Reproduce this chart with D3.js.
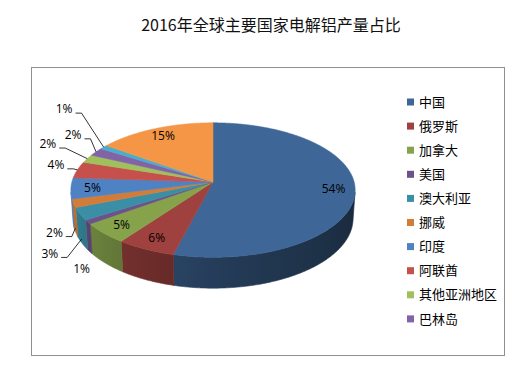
<!DOCTYPE html>
<html><head><meta charset="utf-8">
<script src="https://cdn.jsdelivr.net/npm/d3@7/dist/d3.min.js"></script>
<style>body{margin:0;background:#fff}svg{display:block}</style>
</head><body><svg id="c" width="530" height="380"></svg>
<script>
// ---- data ----
const title = "2016年全球主要国家电解铝产量占比";
const categories = ["中国","俄罗斯","加拿大","美国","澳大利亚","挪威","印度","阿联酋","其他亚洲地区","巴林岛","冰岛","其他"];
const shares = [54,6,5,1,3,2,5,4,2,2,1,15];
const legendCount = 10;
const colors = ["#3E6797","#9F413E","#86A34C","#6B5288","#3A8FA6","#D27D37","#4F82C3","#C5504C","#9FC05C","#8163A7","#4AADC9","#F59647"];

// ---- layout ----
const cx = 213, cy = 182, focal = 1040, dist = 7.37, tilt = 28*Math.PI/180, thick = 0.231;
const labelNudge = {3:[-8,22],4:[-32,14.5],5:[-21,4.5],7:[-21.5,-5],8:[-39.5,-14.6],9:[-23,-17],10:[-39.5,-38]};

const svg = d3.select("#c");
svg.append("rect").attr("width",530).attr("height",380).attr("fill","#fff");
svg.append("rect").attr("x",31.5).attr("y",67.5).attr("width",473).attr("height",288)
  .attr("fill","none").attr("stroke","#8f8f8f").attr("stroke-width",1);

svg.append("text").attr("x",271).attr("y",31).attr("text-anchor","middle")
  .attr("font-family","'Noto Sans CJK SC', sans-serif").attr("font-size",16).attr("fill","#111")
  .text(title);

function project(r, theta, h){
  const X = r*Math.sin(theta), Z = r*Math.cos(theta);
  const yv = h*Math.cos(tilt) + Z*Math.sin(tilt);
  const d = dist + Z*Math.cos(tilt) - h*Math.sin(tilt);
  return [cx + focal*X/d, cy - focal*yv/d];
}

const pie = d3.pie().sort(null).value(d=>d)(shares);
const line = d3.line();
const thR = Math.acos(-1/(dist*Math.cos(tilt)));
const thL = 2*Math.PI - thR;
const shade = th => { const t = Math.max(0,Math.min(1,(th-thR)/(thL-thR))); return 0.42 + 0.5*Math.pow(t,1.5); };
const scaleColor = (c,f) => { const r = d3.rgb(c); return d3.rgb(r.r*f, r.g*f, r.b*f).formatHex(); };

function arcPts(a,b,h,r=1){
  const n = Math.max(2, Math.ceil(Math.abs(b-a)/(0.5*Math.PI/180)));
  return d3.range(n+1).map(i=>project(r, a+(b-a)*i/n, h));
}

const defs = svg.append("defs");
const gWall = svg.append("g"), gTop = svg.append("g");

pie.forEach((p,i)=>{
  const s = Math.max(p.startAngle, thR), e = Math.min(p.endAngle, thL);
  if (e > s) {
    const pts = arcPts(s,e,0).concat(arcPts(e,s,-thick));
    const xs = project(1,s,-thick)[0], xe = project(1,e,-thick)[0];
    const gid = "wg"+i;
    const grad = defs.append("linearGradient").attr("id",gid).attr("gradientUnits","userSpaceOnUse")
      .attr("x1",xe).attr("x2",xs).attr("y1",0).attr("y2",0);
    d3.range(9).forEach(k=>{
      const th = e + (s-e)*k/8;
      const x = project(1,th,-thick)[0];
      grad.append("stop").attr("offset", Math.max(0,Math.min(1,(x-xe)/(xs-xe||1))))
        .attr("stop-color", scaleColor(colors[i], shade(th)));
    });
    gWall.append("path").attr("d", line(pts)+"Z").attr("fill","url(#"+gid+")")
      .attr("stroke","url(#"+gid+")").attr("stroke-width",0.6);
  }
  const top = [[cx,cy]].concat(arcPts(p.startAngle,p.endAngle,0));
  gTop.append("path").attr("d", line(top)+"Z").attr("fill",colors[i])
    .attr("stroke",colors[i]).attr("stroke-width",0.6).attr("stroke-linejoin","round");
});

// labels
const gLab = svg.append("g").attr("font-family","'Open Sans', sans-serif").attr("font-size",12).attr("fill","#000");
pie.forEach((p,i)=>{
  const mid = (p.startAngle+p.endAngle)/2;
  const txt = d3.format(".0%")(p.value/100);
  if (!labelNudge[i]) {
    const [x,y] = project(0.85, mid, 0);
    gLab.append("text").attr("x",x).attr("y",y).attr("dy","0.35em").attr("text-anchor","middle").text(txt);
  } else {
    const onWall = mid > thR && mid < thL;
    const a = project(1, mid, onWall ? -thick*0.85 : 0);
    const [dx,dy] = labelNudge[i];
    const tx = a[0]+dx, ty = a[1]+dy;
    const t = gLab.append("text").attr("x",tx).attr("y",ty).attr("dy","0.35em").attr("text-anchor","middle").text(txt);
    if (Math.abs(dx) > 12) {
      const w = t.node().getComputedTextLength();
      const x0 = tx + w/2 + 3, ly = ty + 4;
      svg.append("path").attr("d", line([[x0,ly],[x0+6,ly],a])).attr("fill","none")
        .attr("stroke","#000").attr("stroke-width",0.8);
    }
  }
});

// legend
const gLeg = svg.append("g");
categories.slice(0,legendCount).forEach((c,i)=>{
  const y = 102 + i*24.1;
  gLeg.append("rect").attr("x",407).attr("y",y-3.5).attr("width",7).attr("height",7).attr("fill",colors[i]);
  gLeg.append("text").attr("x",419).attr("y",y).attr("dy","0.36em")
    .attr("font-family","'Noto Sans CJK SC', sans-serif").attr("font-size",13).attr("fill","#000").text(c);
});
</script></body></html>
